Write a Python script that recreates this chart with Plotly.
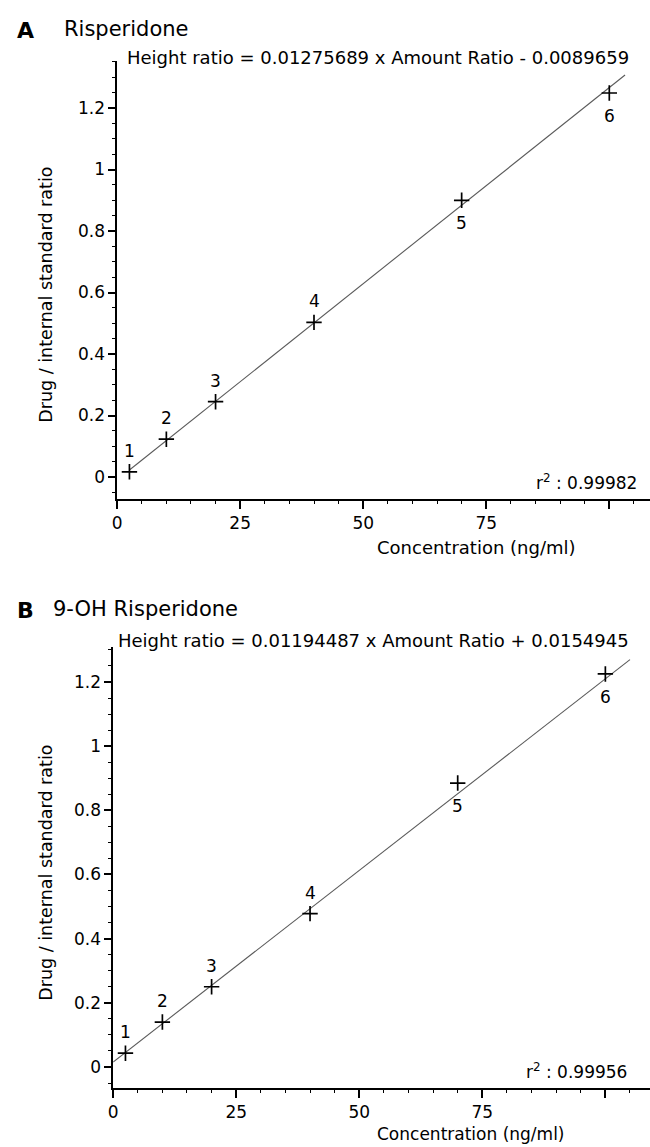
import plotly.graph_objects as go

W, H = 650, 1147

# ---- data ----
concentration = [2.5, 10, 20, 40, 70, 100]
point_labels = ["1", "2", "3", "4", "5", "6"]
label_side = ["above", "above", "above", "above", "below", "below"]

ratio_a = [0.017, 0.123, 0.245, 0.503, 0.900, 1.249]
ratio_b = [0.043, 0.140, 0.250, 0.478, 0.885, 1.225]

fit_a_x = [2.5, 103.2]
fit_a_y = [0.0229, 1.3075]
fit_b_x = [0.0, 105.0]
fit_b_y = [0.0155, 1.2697]

y_tickvals = [0, 0.2, 0.4, 0.6, 0.8, 1.0, 1.2]
y_ticktext = ["0", "0.2", "0.4", "0.6", "0.8", "1", "1.2"]
x_tickvals = [0, 25, 50, 75, 100]
x_ticktext = ["0", "25", "50", "75", ""]

title_a = "Risperidone"
title_b = "9-OH Risperidone"
eq_a = "Height ratio = 0.01275689 x Amount Ratio - 0.0089659"
eq_b = "Height ratio = 0.01194487 x Amount Ratio + 0.0154945"
r2_a = "0.99982"
r2_b = "0.99956"
x_title = "Concentration (ng/ml)"
y_title = "Drug / internal standard ratio"

FONT = "DejaVu Sans"


def px(x):
    return x / W


def py(y):
    return 1 - y / H


fig = go.Figure()

panels = [
    dict(xa="x", ya="y", ratio=ratio_a, fx=fit_a_x, fy=fit_a_y),
    dict(xa="x2", ya="y2", ratio=ratio_b, fx=fit_b_x, fy=fit_b_y),
]
for p in panels:
    fig.add_trace(go.Scatter(
        x=p["fx"], y=p["fy"], mode="lines", xaxis=p["xa"], yaxis=p["ya"],
        line=dict(color="#5a5a5a", width=1.1), showlegend=False, hoverinfo="skip"))
    fig.add_trace(go.Scatter(
        x=concentration, y=p["ratio"], mode="markers", xaxis=p["xa"], yaxis=p["ya"],
        marker=dict(symbol="cross-thin", size=11, line=dict(color="black", width=1.7)),
        showlegend=False))


def x_axis(size, ticklen):
    return dict(showline=True, linewidth=2, linecolor="black", ticks="outside",
                ticklen=ticklen, tickwidth=1.5, tickcolor="black", showgrid=False,
                zeroline=False, tickvals=x_tickvals, ticktext=x_ticktext,
                tickfont=dict(family=FONT, size=size, color="black"),
                minor=dict(ticks="outside", ticklen=3, tickwidth=1.2, dtick=5,
                           tick0=0, tickcolor="black", showgrid=False))


common_y = dict(showline=True, linewidth=1.5, linecolor="black", ticks="outside",
                ticklen=7, tickwidth=1.5, tickcolor="black", showgrid=False,
                zeroline=False, tickvals=y_tickvals, ticktext=y_ticktext,
                tickfont=dict(family=FONT, size=17, color="black"),
                minor=dict(ticks="outside", ticklen=3, tickwidth=1.2, dtick=0.05,
                           tick0=0, tickcolor="black", showgrid=False))

fig.update_layout(
    width=W, height=H, margin=dict(l=0, r=0, t=0, b=0),
    paper_bgcolor="white", plot_bgcolor="white",
    xaxis=dict(domain=[px(113), 1.0], range=[0, 108.27], anchor="y", **x_axis(17, 8)),
    yaxis=dict(domain=[py(499), py(61)], range=[-0.0715, 1.353], anchor="x", **common_y),
    xaxis2=dict(domain=[px(109), 1.0], range=[0, 109.07], anchor="y2", **x_axis(17, 8)),
    yaxis2=dict(domain=[py(1088), py(647)], range=[-0.0655, 1.309], anchor="x2", **common_y),
)

ann = []


def text(x, y, s, size, xanchor="left", angle=0, bold=False):
    ann.append(dict(x=px(x), y=py(y), xref="paper", yref="paper", text=s,
                    showarrow=False, xanchor=xanchor, yanchor="middle",
                    textangle=angle, borderpad=0,
                    font=dict(family=FONT, size=size, color="black",
                              weight="bold" if bold else "normal")))


# panel A texts
text(11, 30, "A", 22, bold=True)
text(58, 29, title_a, 21)
text(122, 57, eq_a, 18.0)
text(638, 482, "r<sup>2</sup> : " + r2_a, 17, xanchor="right")
text(374, 547, x_title, 18)
text(41, 295, y_title, 17.5, xanchor="center", angle=-90)

# panel B texts
text(11, 610, "B", 22, bold=True)
text(47, 609, title_b, 21)
text(113, 640, eq_b, 18.0)
text(628, 1071, "r<sup>2</sup> : " + r2_b, 17, xanchor="right")
text(374, 1134, x_title, 17)
text(41, 873, y_title, 17.5, xanchor="center", angle=-90)

# point labels
for xa, ya, ratios in (("x", "y", ratio_a), ("x2", "y2", ratio_b)):
    for c, r, lab, side in zip(concentration, ratios, point_labels, label_side):
        ann.append(dict(x=c, y=r, xref=xa, yref=ya, text=lab, showarrow=False,
                        xanchor="center", yanchor="middle",
                        yshift=21 if side == "above" else -23,
                        font=dict(family=FONT, size=17, color="black")))

fig.update_layout(annotations=ann)

fig.write_html("out.html",
               config={"displayModeBar": False},
               post_script="document.body.style.margin='0';"
                           "document.body.style.overflow='hidden';")
